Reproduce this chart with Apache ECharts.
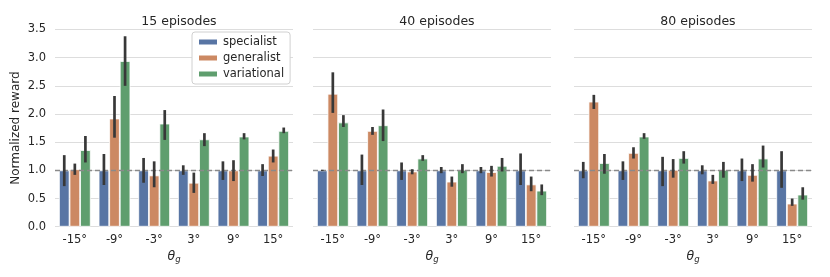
<!DOCTYPE html>
<html><head><meta charset="utf-8">
<script src="https://cdn.jsdelivr.net/npm/echarts@6/dist/echarts.min.js"></script>
<style>html,body{margin:0;padding:0;background:#fff}#c{width:830px;height:277px}</style>
</head><body><div id="c"></div>
<script>
const categories = ['-15°','-9°','-3°','3°','9°','15°'];
const methods = ['specialist','generalist','variational'];
const panelTitles = ['15 episodes','40 episodes','80 episodes'];
const yTicks = [0,0.5,1,1.5,2,2.5,3,3.5];

// panel 1: 15 episodes
const p1_specialist = [1.0,1.0,1.0,1.0,1.0,1.0];
const p1_specialist_lo = [0.72,0.74,0.78,0.92,0.83,0.90];
const p1_specialist_hi = [1.27,1.29,1.22,1.09,1.16,1.11];
const p1_generalist = [1.02,1.92,0.91,0.78,1.0,1.26];
const p1_generalist_lo = [0.92,1.58,0.70,0.60,0.81,1.14];
const p1_generalist_hi = [1.12,2.32,1.16,0.96,1.18,1.37];
const p1_variational = [1.36,2.94,1.83,1.55,1.60,1.70];
const p1_variational_lo = [1.14,2.50,1.54,1.43,1.55,1.66];
const p1_variational_hi = [1.61,3.38,2.07,1.66,1.66,1.76];

// panel 2: 40 episodes
const p2_specialist = [1.0,1.0,1.0,1.0,1.0,1.0];
const p2_specialist_lo = [0.99,0.74,0.83,0.95,0.95,0.74];
const p2_specialist_hi = [1.01,1.28,1.14,1.06,1.06,1.30];
const p2_generalist = [2.36,1.70,0.98,0.80,0.97,0.75];
const p2_generalist_lo = [2.02,1.63,0.93,0.71,0.89,0.63];
const p2_generalist_hi = [2.74,1.77,1.02,0.89,1.08,0.89];
const p2_variational = [1.85,1.80,1.21,1.01,1.08,0.64];
const p2_variational_lo = [1.77,1.52,1.17,0.95,0.98,0.56];
const p2_variational_hi = [1.98,2.08,1.27,1.11,1.22,0.75];

// panel 3: 80 episodes
const p3_specialist = [1.0,1.0,1.0,1.0,1.0,1.0];
const p3_specialist_lo = [0.86,0.83,0.72,0.93,0.81,0.69];
const p3_specialist_hi = [1.15,1.16,1.24,1.09,1.21,1.34];
const p3_generalist = [2.22,1.31,1.01,0.82,0.92,0.41];
const p3_generalist_lo = [2.09,1.21,0.87,0.76,0.80,0.37];
const p3_generalist_hi = [2.34,1.41,1.20,0.92,1.11,0.50];
const p3_variational = [1.13,1.60,1.22,1.01,1.21,0.57];
const p3_variational_lo = [0.94,1.56,1.12,0.87,1.05,0.48];
const p3_variational_hi = [1.29,1.66,1.34,1.15,1.44,0.70];

const panels = [
  {means:[p1_specialist,p1_generalist,p1_variational], lo:[p1_specialist_lo,p1_generalist_lo,p1_variational_lo], hi:[p1_specialist_hi,p1_generalist_hi,p1_variational_hi]},
  {means:[p2_specialist,p2_generalist,p2_variational], lo:[p2_specialist_lo,p2_generalist_lo,p2_variational_lo], hi:[p2_specialist_hi,p2_generalist_hi,p2_variational_hi]},
  {means:[p3_specialist,p3_generalist,p3_variational], lo:[p3_specialist_lo,p3_generalist_lo,p3_variational_lo], hi:[p3_specialist_hi,p3_generalist_hi,p3_variational_hi]}
];

const colors = ['#5875a4','#cc8963','#5f9e6e'];
const textColor = '#262626';
const font = 'DejaVu Sans';
const gridLefts = [55, 313, 574];
const gridW = 238;
const gridTop = 29.5;
const gridH = 197.2;

const chart = echarts.init(document.getElementById('c'), null, {renderer:'canvas'});

const grids = [], xAxes = [], yAxes = [], series = [], titles = [];
panels.forEach((p, pi) => {
  grids.push({left: gridLefts[pi], top: gridTop, width: gridW, height: gridH, containLabel:false});
  titles.push({text: panelTitles[pi], left: gridLefts[pi] + gridW/2, top: 10, textAlign:'center',
    textStyle:{fontFamily:font, fontSize:12.5, fontWeight:'normal', color:textColor}});
  xAxes.push({type:'category', gridIndex: pi, data: categories,
    axisLine:{show:false}, axisTick:{show:false},
    axisLabel:{fontFamily:font, fontSize:11.5, color:textColor, margin:7},
    name:'{i|θ}{s|g}', nameLocation:'middle', nameGap:23,
    nameTextStyle:{rich:{i:{fontFamily:font, fontStyle:'italic', fontSize:12.5, color:textColor},
                         s:{fontFamily:font, fontStyle:'italic', fontSize:8.5, color:textColor, verticalAlign:'bottom', padding:[6,0,0,0]}}}
  });
  yAxes.push({type:'value', gridIndex: pi, min:0, max:3.5, interval:0.5,
    axisLine:{show:false}, axisTick:{show:false},
    splitLine:{show:true, lineStyle:{color:'#dddddd', width:1}},
    axisLabel:{show: pi===0, fontFamily:font, fontSize:11.5, color:textColor, margin:9,
      formatter: v => v.toFixed(1)},
    name: pi===0 ? 'Normalized reward' : '', nameLocation:'middle', nameGap:33,
    nameTextStyle:{fontFamily:font, fontSize:12, color:textColor}
  });
  methods.forEach((m, k) => {
    const s = {type:'bar', name:m, xAxisIndex:pi, yAxisIndex:pi, data:p.means[k],
      barGap:'0%', barCategoryGap:'20%',
      itemStyle:{color:colors[k], borderColor:'#ffffff', borderWidth:0.8},
      emphasis:{disabled:true}, z:2};
    if (k === 0) {
      s.markLine = {silent:true, symbol:['none','none'], label:{show:false},
        lineStyle:{color:'#8a8a8a', type:[5,3], width:1.3}, data:[{yAxis:1}], z:5};
    }
    series.push(s);
  });
  methods.forEach((m, k) => {
    const data = categories.map((c, i) => [i, p.lo[k][i], p.hi[k][i]]);
    series.push({type:'custom', xAxisIndex:pi, yAxisIndex:pi, z:10, silent:true,
      encode:{x:0, y:[1,2]}, data,
      renderItem: (params, api) => {
        const a = api.coord([api.value(0), api.value(1)]);
        const b = api.coord([api.value(0), api.value(2)]);
        const bw = api.size([1,0])[0];
        const x = a[0] + (k-1)*bw*0.8/3;
        return {type:'line', shape:{x1:x, y1:a[1], x2:x, y2:b[1]},
          style:{stroke:'#383838', lineWidth:2.7}};
      }});
  });
});

chart.setOption({
  animation:false,
  backgroundColor:'#ffffff',
  title: titles,
  legend:{data:methods, orient:'vertical', left:192, top:32, itemWidth:20, itemHeight:7, itemGap:4,
    backgroundColor:'#ffffff', borderColor:'#d0d0d0', borderWidth:1, borderRadius:3,
    padding:[4,6,4,5],
    textStyle:{fontFamily:font, fontSize:11.5, color:textColor},
    icon:'rect'},
  grid: grids, xAxis: xAxes, yAxis: yAxes, series
});
</script></body></html>
